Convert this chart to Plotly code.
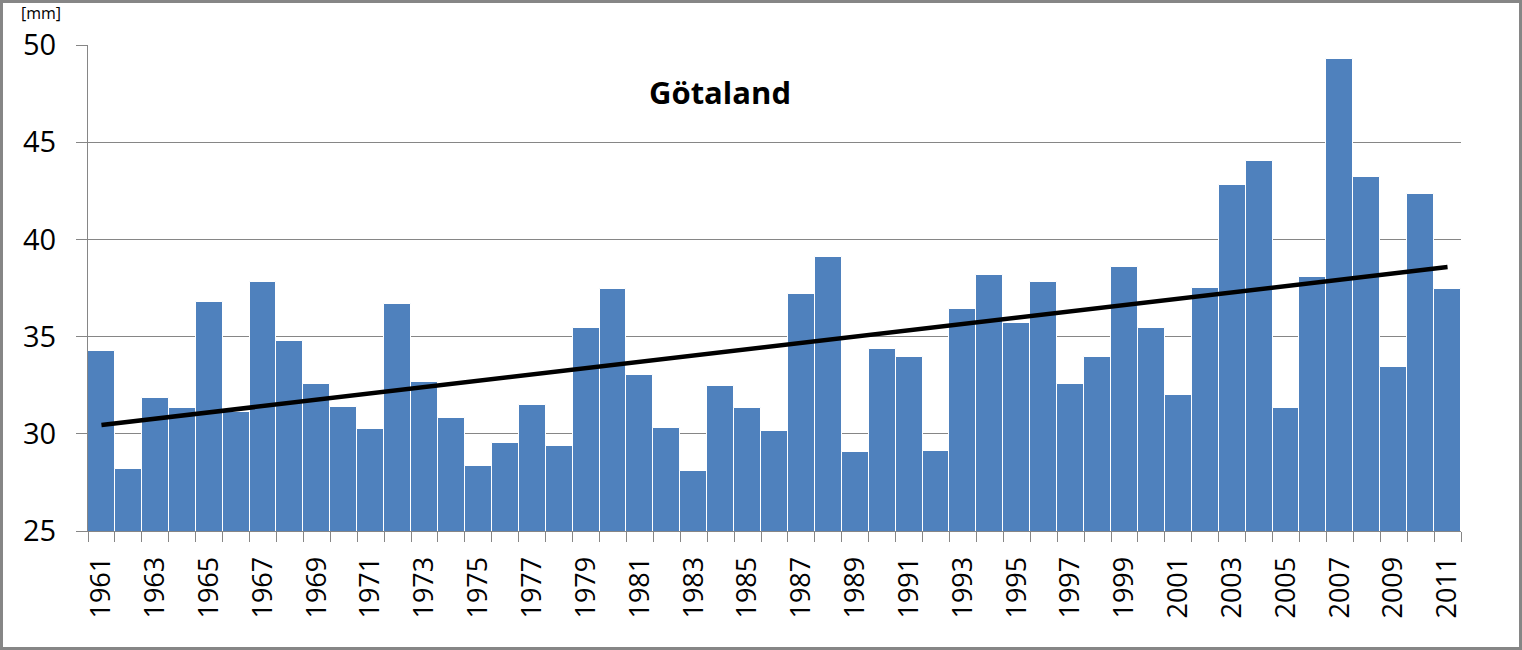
import numpy as np
import plotly.graph_objects as go

years = list(range(1961, 2012))
values = [34.26, 28.19, 31.84, 31.33, 36.78, 31.12, 37.81, 34.77, 32.56, 31.38,
          30.25, 36.68, 32.66, 30.81, 28.34, 29.53, 31.48, 29.37, 35.44, 37.45,
          33.03, 30.30, 28.09, 32.46, 31.33, 30.14, 37.19, 39.09, 29.06, 34.36,
          33.95, 29.12, 36.42, 38.17, 35.70, 37.81, 32.56, 33.95, 38.58, 35.44,
          32.00, 37.50, 42.80, 44.03, 31.33, 38.07, 49.28, 43.21, 33.44, 42.34,
          37.45]
title_text = "Götaland"
unit_text = "[mm]"

coef = np.polyfit(years, values, 1)
trend_x = [years[0], years[-1]]
trend_y = [float(np.polyval(coef, x)) for x in trend_x]

W, H = 1522, 650
ML, MR, MT, MB = 88, 61, 45, 119
pw = W - ML - MR
ph = H - MT - MB

def px(x):
    return (x - ML) / pw

def py(y):
    return (H - MB - y) / ph

fig = go.Figure()
fig.add_trace(go.Bar(x=years, y=values, marker=dict(color="#4F81BD", line=dict(color="white", width=1)),
                     showlegend=False))
fig.add_trace(go.Scatter(x=trend_x, y=trend_y, mode="lines", line=dict(color="black", width=4.5),
                         showlegend=False))

fig.update_layout(
    width=W, height=H,
    margin=dict(l=ML, r=MR, t=MT, b=MB),
    paper_bgcolor="white", plot_bgcolor="white",
    bargap=0,
    font=dict(family="Open Sans", color="black"),
    xaxis=dict(range=[1960.5, 2011.5], tickmode="linear", tick0=1961, dtick=2, ticks="",
               tickangle=-90, tickfont=dict(size=27), showgrid=False, showline=True,
               linecolor="#868686", linewidth=1, ticklabelstandoff=14,
               minor=dict(ticks="outside", tick0=1960.5, dtick=1, ticklen=10, tickcolor="#868686", showgrid=False)),
    yaxis=dict(range=[25, 50], tickmode="linear", tick0=25, dtick=5, ticks="outside", ticklen=11,
               tickcolor="#868686", tickfont=dict(size=29), showgrid=True, gridcolor="#868686",
               gridwidth=1, showline=True, linecolor="#868686", linewidth=1, zeroline=False,
               ticklabelstandoff=14),
    annotations=[
        dict(text=title_text, x=px(720), y=py(92), xref="paper", yref="paper", showarrow=False,
             xanchor="center", yanchor="middle",
             font=dict(size=31, family="Open Sans", color="black", weight="bold")),
        dict(text=unit_text, x=px(41), y=py(13), xref="paper", yref="paper", showarrow=False,
             xanchor="center", yanchor="middle",
             font=dict(size=16, color="black")),
    ],
    shapes=[dict(type="rect", xref="paper", yref="paper", x0=px(1.5), x1=px(W - 1.5),
                 y0=py(H - 1.5), y1=py(1.5), line=dict(color="#868686", width=3))],
)
fig.write_html("out.html", config={"displayModeBar": False},
               post_script="document.body.style.margin='0';document.body.style.overflow='hidden';")
